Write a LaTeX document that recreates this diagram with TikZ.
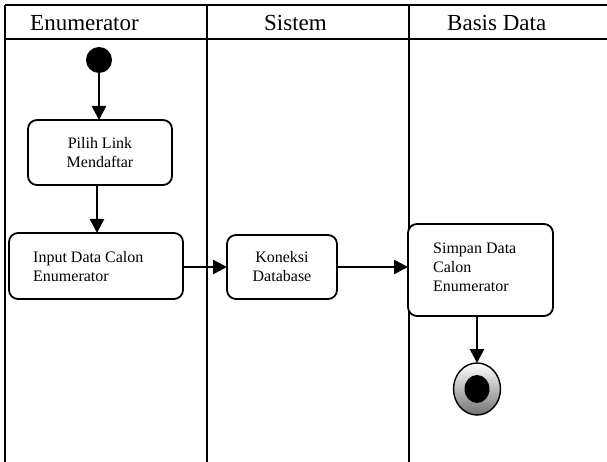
\documentclass[tikz,border=0pt]{standalone}
\usepackage{fontspec}
\setmainfont{Liberation Serif}
\usetikzlibrary{arrows.meta}
\begin{document}
\begin{tikzpicture}[x=1pt,y=-1pt,
  lane/.style={line width=2pt},
  act/.style={draw,line width=1.8pt,rounded corners=9pt,fill=white},
  acttext/.style={font=\fontsize{16}{19}\selectfont},
  head/.style={font=\fontsize{23}{26}\selectfont,anchor=base west,inner sep=0pt},
  flow/.style={line width=2.6pt,-{Triangle[length=14pt,width=14pt]}}]
\useasboundingbox (0,0) rectangle (607,462);
\fill[white] (0,0) rectangle (607,462);

% swimlane frame
\draw[lane] (5,5.5) -- (607,5.5);
\draw[lane] (5,39) -- (607,39);
\draw[lane] (5,5.5) -- (5,462);
\draw[lane] (207,5.5) -- (207,462);
\draw[lane] (409,5.5) -- (409,462);

% lane headings
\node[head] (h1) at (30,31) {Enumerator};
\node[head] (h2) at (264,31) {Sistem};
\node[head] (h3) at (447,31) {Basis Data};

% start
\node[circle,fill=black,minimum size=26pt,inner sep=0pt] (start) at (99,60) {};

% activities
\path[act] (28,120) rectangle (172,185);
\coordinate (a1n) at (99,120); \coordinate (a1s) at (97,185);
\node[acttext,align=center] (t1) at (100,153) {Pilih Link\\Mendaftar};

\path[act] (9,233) rectangle (183,299);
\coordinate (a2n) at (97,233); \coordinate (a2e) at (183,267);
\node[acttext,align=left,anchor=west,inner sep=0pt] (t2) at (33,267) {Input Data Calon\\Enumerator};

\path[act] (227,235) rectangle (337,299);
\coordinate (a3w) at (227,267); \coordinate (a3e) at (337,267);
\node[acttext,align=center] (t3) at (282,267) {Koneksi\\Database};

\path[act] (408,224) rectangle (553,316);
\coordinate (a4w) at (408,267); \coordinate (a4s) at (477,316);
\node[acttext,align=left,anchor=west,inner sep=0pt] (t4) at (433,267) {Simpan Data\\Calon\\Enumerator};

% end
\coordinate (endn) at (477,363);
\draw[line width=1.4pt,top color=white,bottom color=black!55,shading=axis]
  (477,389) ellipse [x radius=23.5pt,y radius=26pt];
\fill[black] (477,389) ellipse [x radius=12.5pt,y radius=14pt];

% control flow
\draw[flow] (start.south) -- (a1n);
\draw[flow] (a1s) -- (a2n);
\draw[flow] (a2e) -- (a3w);
\draw[flow] (a3e) -- (a4w);
\draw[flow] (a4s) -- (endn);
\end{tikzpicture}
\end{document}
